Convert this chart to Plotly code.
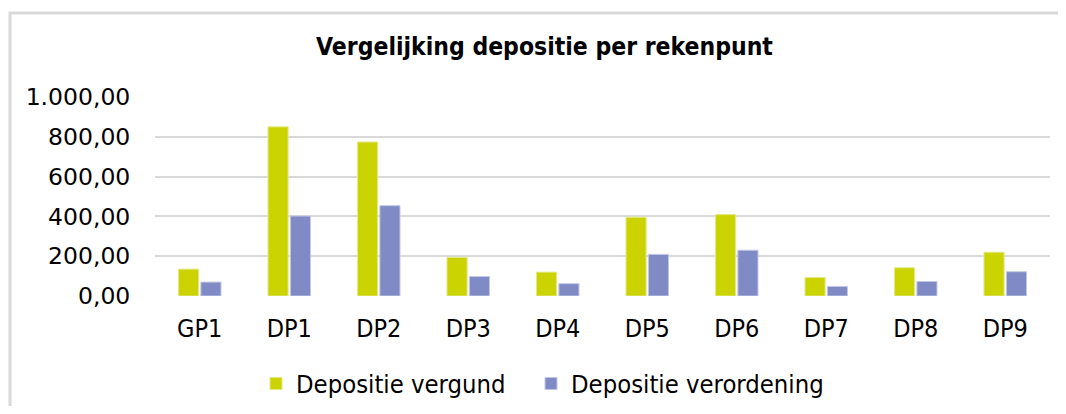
import plotly.graph_objects as go

categories = ["GP1", "DP1", "DP2", "DP3", "DP4", "DP5", "DP6", "DP7", "DP8", "DP9"]
depositie_vergund = [135, 850, 774, 194, 120, 396, 409, 93, 142, 220]
depositie_verordening = [70, 402, 454, 98, 62, 209, 230, 48, 73, 122]
y_ticks = [0, 200, 400, 600, 800, 1000]

# page body has an 8px margin; the figure is sized to fit the 1066x414 window
OFF = 8
W, H = 1066 - OFF, 414 - 2 * OFF
# plot area in window pixels: x 155..1050, y 97..296
L = 155 - OFF
R = W - (1050 - OFF)
T = 97 - OFF
B = H - (296 - OFF)
pw, ph = W - L - R, H - T - B


def px_x(x):  # window pixel -> paper x
    return (x - OFF - L) / pw


def px_y(y):  # window pixel -> paper y
    return (H - B - (y - OFF)) / ph


FONT = "DejaVu Sans Condensed, DejaVu Sans, sans-serif"

fig = go.Figure()
fig.add_trace(go.Bar(
    x=categories, y=depositie_vergund, name="Depositie vergund",
    marker=dict(color="#cbd400", line=dict(color="#e3e98a", width=1)),
    legendwidth=230,
))
fig.add_trace(go.Bar(
    x=categories, y=depositie_verordening, name="Depositie verordening",
    marker=dict(color="#808bc6", line=dict(color="#c3c8e6", width=1)),
))

fig.update_layout(
    width=W, height=H,
    margin=dict(l=L, r=R, t=T, b=B, autoexpand=False),
    paper_bgcolor="white", plot_bgcolor="white",
    separators=",.",
    barmode="group", bargap=0.5, bargroupgap=0.1,
    font=dict(family=FONT, color="#000000", size=24),
    title=dict(
        text="<b>Vergelijking depositie per rekenpunt</b>",
        x=(544.5 - OFF) / W, xref="container", xanchor="center",
        y=1 - (46.5 - OFF) / H, yref="container", yanchor="middle",
        font=dict(family=FONT, size=24.5, color="#000000"),
    ),
    legend=dict(
        orientation="h",
        x=px_x(256), xanchor="left",
        y=px_y(384), yanchor="middle",
        font=dict(family=FONT, size=25.4, color="#000000"),
        bgcolor="rgba(0,0,0,0)",
    ),
    showlegend=True,
)

fig.update_yaxes(
    range=[0, 1000], tickvals=y_ticks, tickformat=",.2f",
    showgrid=True, gridcolor="#d9d9d9", gridwidth=2,
    zeroline=False, showline=False,
    ticks="outside", ticklen=19, tickcolor="rgba(0,0,0,0)",
    tickfont=dict(family="DejaVu Sans, sans-serif", size=23.5, color="#000000"),
)
fig.update_xaxes(
    showgrid=False, zeroline=False, showline=False,
    ticks="outside", ticklen=10, tickcolor="rgba(0,0,0,0)",
    tickfont=dict(family=FONT, size=25, color="#000000"),
)

fig.add_shape(
    type="rect", xref="paper", yref="paper",
    x0=px_x(10), x1=px_x(1066 + 40), y0=px_y(13), y1=px_y(414 + 40),
    line=dict(color="#d9d9d9", width=3), fillcolor="rgba(0,0,0,0)",
    layer="below",
)

fig.write_html("out.html")
